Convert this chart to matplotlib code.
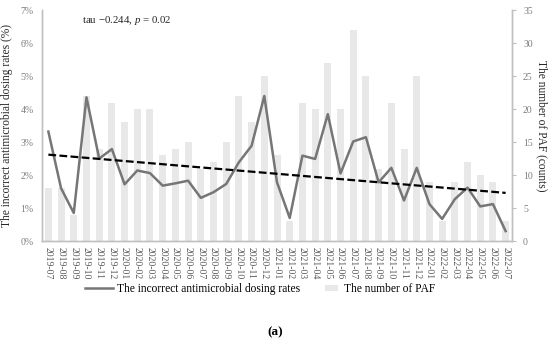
import numpy as np
import matplotlib
matplotlib.use("Agg")
import matplotlib.pyplot as plt
from matplotlib.lines import Line2D
from matplotlib.patches import Patch, Rectangle
from matplotlib.legend_handler import HandlerPatch

plt.rcParams['font.family'] = ['Liberation Serif', 'DejaVu Serif']
plt.rcParams['mathtext.fontset'] = 'custom'
plt.rcParams['mathtext.rm'] = 'Liberation Serif'
plt.rcParams['mathtext.it'] = 'Liberation Serif:italic'

# months 2019-07 .. 2022-07
months = ['2019-07', '2019-08', '2019-09', '2019-10', '2019-11', '2019-12',
          '2020-01', '2020-02', '2020-03', '2020-04', '2020-05', '2020-06',
          '2020-07', '2020-08', '2020-09', '2020-10', '2020-11', '2020-12',
          '2021-01', '2021-02', '2021-03', '2021-04', '2021-05', '2021-06',
          '2021-07', '2021-08', '2021-09', '2021-10', '2021-11', '2021-12',
          '2022-01', '2022-02', '2022-03', '2022-04', '2022-05', '2022-06',
          '2022-07']

# incorrect antimicrobial dosing rates (%)
dosing_rate = [3.32, 1.60, 0.85, 4.36, 2.50, 2.79, 1.72, 2.14, 2.06, 1.68,
               1.75, 1.83, 1.31, 1.48, 1.73, 2.39, 2.89, 4.40, 1.78, 0.70,
               2.59, 2.49, 3.85, 2.05, 3.02, 3.15, 1.78, 2.22, 1.23, 2.22,
               1.12, 0.67, 1.27, 1.62, 1.05, 1.12, 0.30]

# number of PAF (counts)
paf_count = [8, 8, 4, 22, 14, 21, 18, 20, 20, 13,
             14, 15, 11, 12, 15, 22, 18, 25, 13, 3,
             21, 20, 27, 20, 32, 25, 11, 21, 14, 25,
             9, 3, 9, 12, 10, 9, 3]

# dashed trend line, start / end value
trend_ends = [2.62, 1.46]

x = np.arange(len(months))

fig = plt.figure(figsize=(5.5, 3.44), dpi=100)
ax = fig.add_axes([0.0764, 0.2994, 0.8545, 0.6706])
ax2 = ax.twinx()

ax2.bar(x, paf_count, width=0.55, color='#e8e8e8')
ax.plot(x, dosing_rate, color='#767676', lw=1.8)
ax.plot([x[0], x[-1]], trend_ends, color='black', lw=1.6,
        linestyle=(0, (3.5, 1.5)))

# line above the bars
ax.set_zorder(ax2.get_zorder() + 1)
ax.patch.set_visible(False)

ax.set_xlim(-0.5, len(months) - 0.5)
ax.set_ylim(0, 7)
ax2.set_ylim(0, 35)

ax.set_yticks(range(0, 8))
ax.set_yticklabels([f'{v}%' for v in range(0, 8)])
ax2.set_yticks(range(0, 36, 5))
ax.set_xticks(x)
ax.set_xticklabels(months, rotation=270)

for a in (ax, ax2):
    a.spines['top'].set_visible(False)
    for s in ('left', 'right', 'bottom'):
        a.spines[s].set_color('#c0c0c0')
        a.spines[s].set_linewidth(1.0)

ax.tick_params(axis='y', length=0, pad=6, labelsize=7, labelcolor='#7f7f7f')
ax.tick_params(axis='x', length=0, pad=4, labelsize=7, labelcolor='#595959')
ax2.tick_params(axis='y', length=3, width=0.8, color='#c0c0c0', pad=5,
                labelsize=7, labelcolor='#7f7f7f')

ax.set_ylabel('The incorrect antimicrobial dosing rates (%)', fontsize=8.3,
              color='#262626', labelpad=5)
ax2.set_ylabel('The number of PAF (counts)', fontsize=8.3, color='#262626',
               rotation=270, labelpad=11)

fig.text(0.149, 0.94, 'tau \u22120.244, $p$ = 0.02', fontsize=7.8,
         color='#262626', va='center')


def small_patch(legend, orig_handle, xdescent, ydescent, width, height, fontsize):
    return Rectangle((xdescent + width * 0.45, ydescent + height * 0.15),
                     width * 0.5, height * 0.7)


handles = [Line2D([], [], color='#767676', lw=1.8),
           Patch(facecolor='#e8e8e8', edgecolor='none')]
fig.legend(handles, ['The incorrect antimicrobial dosing rates',
                     'The number of PAF'],
           loc='center', bbox_to_anchor=(0.473, 0.160), ncol=2, frameon=False,
           fontsize=8.3, handlelength=2.35, columnspacing=1.1,
           handletextpad=0.35,
           handler_map={Patch: HandlerPatch(patch_func=small_patch)})

fig.text(0.5, 1 - 332 / 344, '(a)', fontsize=9.5, fontweight='bold',
         ha='center', va='center')

fig.savefig('out.png', dpi=100)
